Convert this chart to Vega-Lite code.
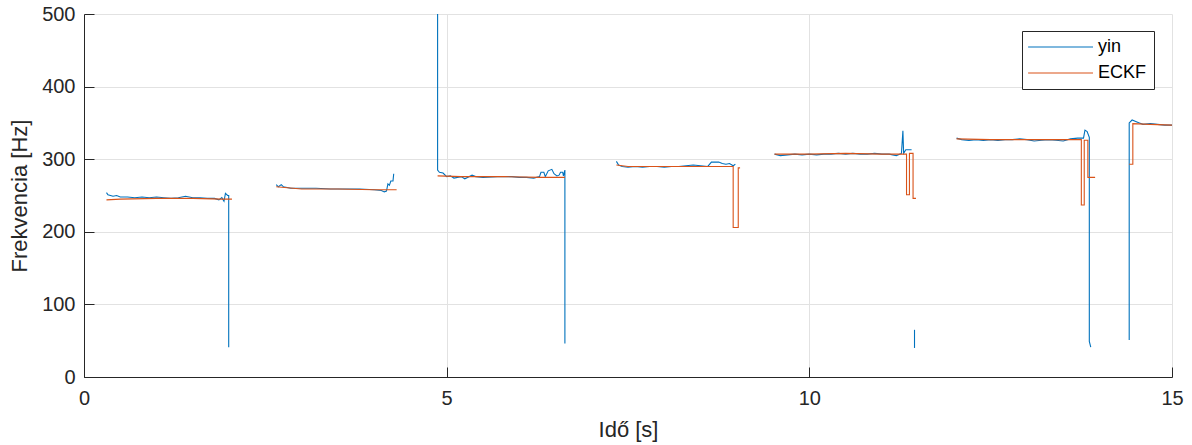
{
  "$schema": "https://vega.github.io/schema/vega-lite/v6.json",
  "width": 1088,
  "height": 363,
  "autosize": {"type": "none"},
  "padding": {"left": 84, "top": 14, "right": 20, "bottom": 68},
  "background": "white",
  "config": {
    "view": {"stroke": null},
    "font": "Liberation Sans",
    "axis": {
      "domainColor": "#262626",
      "domainWidth": 1,
      "tickColor": "#262626",
      "tickSize": -10,
      "labelColor": "#262626",
      "titleColor": "#262626",
      "labelFont": "Liberation Sans",
      "titleFont": "Liberation Sans",
      "labelFontSize": 20,
      "titleFontSize": 22,
      "titleFontWeight": "normal",
      "labelFlush": false,
      "gridColor": "#e2e2e2",
      "gridWidth": 1
    }
  },
  "data": {"values": [
    {"s":"yin","g":"b1","t":0.31,"f":254},{"s":"yin","g":"b1","t":0.33,"f":251},{"s":"yin","g":"b1","t":0.40,"f":249},{"s":"yin","g":"b1","t":0.45,"f":250},{"s":"yin","g":"b1","t":0.50,"f":248},{"s":"yin","g":"b1","t":0.60,"f":248},{"s":"yin","g":"b1","t":0.70,"f":247},{"s":"yin","g":"b1","t":0.80,"f":248},{"s":"yin","g":"b1","t":0.90,"f":247},{"s":"yin","g":"b1","t":1.00,"f":248},{"s":"yin","g":"b1","t":1.10,"f":247},{"s":"yin","g":"b1","t":1.20,"f":246},{"s":"yin","g":"b1","t":1.30,"f":247},{"s":"yin","g":"b1","t":1.40,"f":249},{"s":"yin","g":"b1","t":1.50,"f":247},{"s":"yin","g":"b1","t":1.60,"f":247},{"s":"yin","g":"b1","t":1.70,"f":246},{"s":"yin","g":"b1","t":1.80,"f":246},{"s":"yin","g":"b1","t":1.86,"f":244},{"s":"yin","g":"b1","t":1.90,"f":247},{"s":"yin","g":"b1","t":1.93,"f":242},{"s":"yin","g":"b1","t":1.95,"f":253},{"s":"yin","g":"b1","t":1.98,"f":250},{"s":"yin","g":"b1","t":1.995,"f":250},{"s":"yin","g":"b1","t":1.995,"f":41},
    {"s":"ECKF","g":"r1","t":0.31,"f":244},{"s":"ECKF","g":"r1","t":0.50,"f":245},{"s":"ECKF","g":"r1","t":1.00,"f":246},{"s":"ECKF","g":"r1","t":1.50,"f":246},{"s":"ECKF","g":"r1","t":1.90,"f":245},{"s":"ECKF","g":"r1","t":2.04,"f":245},
    {"s":"yin","g":"b2","t":2.65,"f":265},{"s":"yin","g":"b2","t":2.68,"f":262},{"s":"yin","g":"b2","t":2.72,"f":265},{"s":"yin","g":"b2","t":2.75,"f":262},{"s":"yin","g":"b2","t":2.85,"f":260},{"s":"yin","g":"b2","t":3.0,"f":260},{"s":"yin","g":"b2","t":3.2,"f":260},{"s":"yin","g":"b2","t":3.4,"f":259},{"s":"yin","g":"b2","t":3.6,"f":259},{"s":"yin","g":"b2","t":3.8,"f":259},{"s":"yin","g":"b2","t":4.0,"f":258},{"s":"yin","g":"b2","t":4.1,"f":257},{"s":"yin","g":"b2","t":4.14,"f":255},{"s":"yin","g":"b2","t":4.17,"f":256},{"s":"yin","g":"b2","t":4.19,"f":266},{"s":"yin","g":"b2","t":4.21,"f":264},{"s":"yin","g":"b2","t":4.23,"f":270},{"s":"yin","g":"b2","t":4.26,"f":270},{"s":"yin","g":"b2","t":4.27,"f":280},
    {"s":"ECKF","g":"r2","t":2.65,"f":262},{"s":"ECKF","g":"r2","t":3.0,"f":259},{"s":"ECKF","g":"r2","t":3.5,"f":259},{"s":"ECKF","g":"r2","t":4.0,"f":258},{"s":"ECKF","g":"r2","t":4.31,"f":258},
    {"s":"yin","g":"b3","t":4.875,"f":500},{"s":"yin","g":"b3","t":4.875,"f":285},{"s":"yin","g":"b3","t":4.90,"f":282},{"s":"yin","g":"b3","t":4.95,"f":281},{"s":"yin","g":"b3","t":5.0,"f":276},{"s":"yin","g":"b3","t":5.05,"f":277},{"s":"yin","g":"b3","t":5.10,"f":274},{"s":"yin","g":"b3","t":5.2,"f":276},{"s":"yin","g":"b3","t":5.25,"f":273},{"s":"yin","g":"b3","t":5.35,"f":278},{"s":"yin","g":"b3","t":5.4,"f":276},{"s":"yin","g":"b3","t":5.5,"f":275},{"s":"yin","g":"b3","t":5.7,"f":276},{"s":"yin","g":"b3","t":5.9,"f":276},{"s":"yin","g":"b3","t":6.0,"f":275},{"s":"yin","g":"b3","t":6.1,"f":275},{"s":"yin","g":"b3","t":6.2,"f":274},{"s":"yin","g":"b3","t":6.28,"f":276},{"s":"yin","g":"b3","t":6.30,"f":282},{"s":"yin","g":"b3","t":6.34,"f":282},{"s":"yin","g":"b3","t":6.36,"f":276},{"s":"yin","g":"b3","t":6.40,"f":284},{"s":"yin","g":"b3","t":6.45,"f":286},{"s":"yin","g":"b3","t":6.48,"f":280},{"s":"yin","g":"b3","t":6.52,"f":277},{"s":"yin","g":"b3","t":6.55,"f":278},{"s":"yin","g":"b3","t":6.57,"f":282},{"s":"yin","g":"b3","t":6.60,"f":282},{"s":"yin","g":"b3","t":6.61,"f":277},{"s":"yin","g":"b3","t":6.63,"f":285},{"s":"yin","g":"b3","t":6.63,"f":46},
    {"s":"ECKF","g":"r3","t":4.875,"f":277},{"s":"ECKF","g":"r3","t":5.2,"f":276},{"s":"ECKF","g":"r3","t":5.8,"f":276},{"s":"ECKF","g":"r3","t":6.3,"f":275},{"s":"ECKF","g":"r3","t":6.63,"f":275},
    {"s":"yin","g":"b4","t":7.34,"f":297},{"s":"yin","g":"b4","t":7.37,"f":292},{"s":"yin","g":"b4","t":7.42,"f":290},{"s":"yin","g":"b4","t":7.5,"f":289},{"s":"yin","g":"b4","t":7.6,"f":290},{"s":"yin","g":"b4","t":7.7,"f":289},{"s":"yin","g":"b4","t":7.8,"f":290},{"s":"yin","g":"b4","t":7.9,"f":290},{"s":"yin","g":"b4","t":8.0,"f":289},{"s":"yin","g":"b4","t":8.1,"f":290},{"s":"yin","g":"b4","t":8.2,"f":290},{"s":"yin","g":"b4","t":8.3,"f":291},{"s":"yin","g":"b4","t":8.4,"f":292},{"s":"yin","g":"b4","t":8.5,"f":291},{"s":"yin","g":"b4","t":8.6,"f":290},{"s":"yin","g":"b4","t":8.65,"f":296},{"s":"yin","g":"b4","t":8.75,"f":296},{"s":"yin","g":"b4","t":8.8,"f":294},{"s":"yin","g":"b4","t":8.85,"f":293},{"s":"yin","g":"b4","t":8.9,"f":294},{"s":"yin","g":"b4","t":8.95,"f":291},{"s":"yin","g":"b4","t":8.98,"f":293},
    {"s":"ECKF","g":"r4","t":7.34,"f":292},{"s":"ECKF","g":"r4","t":7.5,"f":290},{"s":"ECKF","g":"r4","t":8.0,"f":290},{"s":"ECKF","g":"r4","t":8.5,"f":290},{"s":"ECKF","g":"r4","t":8.95,"f":290},{"s":"ECKF","g":"r4","t":8.95,"f":206},{"s":"ECKF","g":"r4","t":9.02,"f":206},{"s":"ECKF","g":"r4","t":9.02,"f":288},{"s":"ECKF","g":"r4","t":9.045,"f":288},
    {"s":"yin","g":"b5","t":9.52,"f":307},{"s":"yin","g":"b5","t":9.6,"f":305},{"s":"yin","g":"b5","t":9.7,"f":306},{"s":"yin","g":"b5","t":9.8,"f":307},{"s":"yin","g":"b5","t":9.9,"f":306},{"s":"yin","g":"b5","t":10.0,"f":307},{"s":"yin","g":"b5","t":10.1,"f":306},{"s":"yin","g":"b5","t":10.2,"f":307},{"s":"yin","g":"b5","t":10.3,"f":307},{"s":"yin","g":"b5","t":10.4,"f":308},{"s":"yin","g":"b5","t":10.5,"f":307},{"s":"yin","g":"b5","t":10.6,"f":308},{"s":"yin","g":"b5","t":10.7,"f":307},{"s":"yin","g":"b5","t":10.8,"f":307},{"s":"yin","g":"b5","t":10.9,"f":308},{"s":"yin","g":"b5","t":11.0,"f":307},{"s":"yin","g":"b5","t":11.1,"f":307},{"s":"yin","g":"b5","t":11.2,"f":305},{"s":"yin","g":"b5","t":11.27,"f":308},{"s":"yin","g":"b5","t":11.29,"f":339},{"s":"yin","g":"b5","t":11.30,"f":308},{"s":"yin","g":"b5","t":11.33,"f":313},{"s":"yin","g":"b5","t":11.41,"f":313},
    {"s":"ECKF","g":"r5","t":9.52,"f":307},{"s":"ECKF","g":"r5","t":10.0,"f":307},{"s":"ECKF","g":"r5","t":10.5,"f":308},{"s":"ECKF","g":"r5","t":11.0,"f":307},{"s":"ECKF","g":"r5","t":11.34,"f":307},{"s":"ECKF","g":"r5","t":11.34,"f":251},{"s":"ECKF","g":"r5","t":11.38,"f":251},{"s":"ECKF","g":"r5","t":11.38,"f":308},{"s":"ECKF","g":"r5","t":11.43,"f":308},{"s":"ECKF","g":"r5","t":11.43,"f":246},{"s":"ECKF","g":"r5","t":11.47,"f":246},
    {"s":"yin","g":"b5x","t":11.45,"f":65},{"s":"yin","g":"b5x","t":11.45,"f":40},
    {"s":"yin","g":"b6","t":12.03,"f":329},{"s":"yin","g":"b6","t":12.1,"f":327},{"s":"yin","g":"b6","t":12.2,"f":326},{"s":"yin","g":"b6","t":12.3,"f":327},{"s":"yin","g":"b6","t":12.4,"f":326},{"s":"yin","g":"b6","t":12.5,"f":327},{"s":"yin","g":"b6","t":12.6,"f":326},{"s":"yin","g":"b6","t":12.7,"f":327},{"s":"yin","g":"b6","t":12.8,"f":327},{"s":"yin","g":"b6","t":12.9,"f":328},{"s":"yin","g":"b6","t":13.0,"f":327},{"s":"yin","g":"b6","t":13.1,"f":325},{"s":"yin","g":"b6","t":13.2,"f":326},{"s":"yin","g":"b6","t":13.3,"f":327},{"s":"yin","g":"b6","t":13.4,"f":326},{"s":"yin","g":"b6","t":13.5,"f":325},{"s":"yin","g":"b6","t":13.6,"f":328},{"s":"yin","g":"b6","t":13.7,"f":329},{"s":"yin","g":"b6","t":13.78,"f":329},{"s":"yin","g":"b6","t":13.8,"f":340},{"s":"yin","g":"b6","t":13.83,"f":338},{"s":"yin","g":"b6","t":13.86,"f":330},{"s":"yin","g":"b6","t":13.86,"f":49},{"s":"yin","g":"b6","t":13.88,"f":41},
    {"s":"ECKF","g":"r6","t":12.03,"f":328},{"s":"ECKF","g":"r6","t":12.5,"f":327},{"s":"ECKF","g":"r6","t":13.0,"f":327},{"s":"ECKF","g":"r6","t":13.5,"f":327},{"s":"ECKF","g":"r6","t":13.75,"f":327},{"s":"ECKF","g":"r6","t":13.75,"f":237},{"s":"ECKF","g":"r6","t":13.79,"f":237},{"s":"ECKF","g":"r6","t":13.79,"f":326},{"s":"ECKF","g":"r6","t":13.84,"f":326},{"s":"ECKF","g":"r6","t":13.84,"f":275},{"s":"ECKF","g":"r6","t":13.94,"f":275},
    {"s":"yin","g":"b7","t":14.41,"f":51},{"s":"yin","g":"b7","t":14.41,"f":350},{"s":"yin","g":"b7","t":14.45,"f":354},{"s":"yin","g":"b7","t":14.5,"f":352},{"s":"yin","g":"b7","t":14.55,"f":350},{"s":"yin","g":"b7","t":14.6,"f":348},{"s":"yin","g":"b7","t":14.7,"f":349},{"s":"yin","g":"b7","t":14.8,"f":348},{"s":"yin","g":"b7","t":14.9,"f":347},{"s":"yin","g":"b7","t":15.0,"f":347},
    {"s":"ECKF","g":"r7","t":14.41,"f":293},{"s":"ECKF","g":"r7","t":14.46,"f":293},{"s":"ECKF","g":"r7","t":14.46,"f":349},{"s":"ECKF","g":"r7","t":14.7,"f":348},{"s":"ECKF","g":"r7","t":15.0,"f":347}
  ]},
  "mark": {"type": "line", "strokeWidth": 1.1, "clip": true},
  "encoding": {
    "x": {"field": "t", "type": "quantitative", "title": "Idő [s]",
      "scale": {"domain": [0, 15], "nice": false},
      "axis": {"values": [0, 5, 10, 15], "labelPadding": 21, "titlePadding": 11}},
    "y": {"field": "f", "type": "quantitative", "title": "Frekvencia [Hz]",
      "scale": {"domain": [0, 500], "nice": false},
      "axis": {"values": [0, 100, 200, 300, 400, 500], "labelPadding": 19, "titlePadding": 10}},
    "color": {"field": "s", "type": "nominal",
      "scale": {"domain": ["yin", "ECKF"], "range": ["#0072BD", "#D95319"]},
      "legend": {"title": null, "orient": "none", "legendX": 938, "legendY": 17,
        "direction": "vertical", "columns": 1, "gridAlign": "all",
        "strokeColor": "#262626", "fillColor": "white", "padding": 7,
        "symbolType": "M-1.8,0H10", "symbolSize": 121, "symbolStrokeWidth": 1.2, "symbolOffset": 0,
        "labelOffset": 51, "labelAlign": "left", "labelFontSize": 18, "labelColor": "#000000", "rowPadding": 8}},
    "detail": {"field": "g"},
    "order": {"value": null}
  }
}
